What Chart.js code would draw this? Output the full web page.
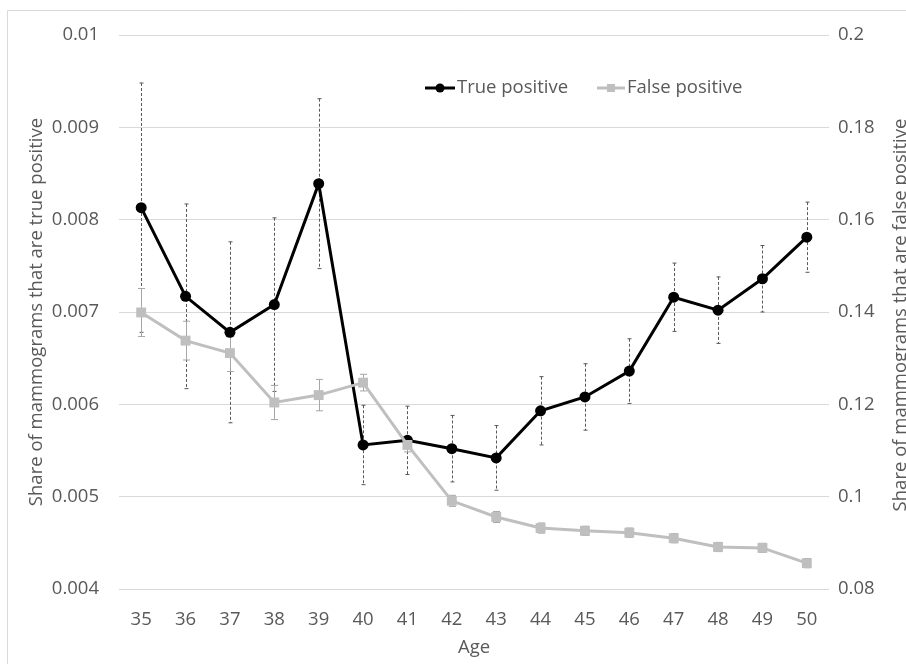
<!DOCTYPE html>
<html>
<head>
<meta charset="utf-8">
<script src="https://cdn.jsdelivr.net/npm/chart.js@4.4.1/dist/chart.umd.min.js"></script>
<style>
  body { margin: 0; background: #fff; }
  #wrap { width: 906px; height: 664px; }
</style>
</head>
<body>
<div id="wrap"><canvas id="c" width="906" height="664"></canvas></div>
<script>
// data
const ages = ['35','36','37','38','39','40','41','42','43','44','45','46','47','48','49','50'];
const truePos = [0.00813, 0.00717, 0.00678, 0.00708, 0.00839, 0.00556, 0.00561, 0.00552, 0.00542, 0.00593, 0.00608, 0.00636, 0.00716, 0.00702, 0.00736, 0.00781];
const truePosErr = [0.00135, 0.00100, 0.00098, 0.00094, 0.00092, 0.00043, 0.00037, 0.00036, 0.00035, 0.00037, 0.00036, 0.00035, 0.00037, 0.00036, 0.00036, 0.00038];
const falsePos = [0.1399, 0.1338, 0.1311, 0.1204, 0.1220, 0.1247, 0.1112, 0.0991, 0.0956, 0.0932, 0.0926, 0.0922, 0.0910, 0.0891, 0.0889, 0.0856];
const falsePosErr = [0.0052, 0.0042, 0.0040, 0.0037, 0.0034, 0.0018, 0.0015, 0.0012, 0.0012, 0.0011, 0.0010, 0.0010, 0.0010, 0.0010, 0.0010, 0.0010];
const leftTicks = [0.004, 0.005, 0.006, 0.007, 0.008, 0.009, 0.01];
const rightTicks = [0.08, 0.1, 0.12, 0.14, 0.16, 0.18, 0.2];

const FONT = "'Open Sans', sans-serif";
const FSIZE = 18.5;
const TXT = '#595959';
const GRID = '#d9d9d9';

Chart.defaults.font.family = FONT;
Chart.defaults.font.size = FSIZE;
Chart.defaults.color = TXT;

// vertical error bars, drawn under the lines
const errorBars = {
  id: 'errorBars',
  beforeDatasetsDraw(chart) {
    const ctx = chart.ctx;
    const x = chart.scales.x;
    const sets = [
      { vals: truePos, errs: truePosErr, scale: chart.scales.y, color: '#595959', dash: [3, 2], cap: 2 },
      { vals: falsePos, errs: falsePosErr, scale: chart.scales.y2, color: '#a6a6a6', dash: [], cap: 3.5 }
    ];
    ctx.save();
    ctx.lineWidth = 1;
    sets.forEach(s => {
      ctx.strokeStyle = s.color;
      s.vals.forEach((v, i) => {
        const px = Math.round(x.getPixelForValue(i)) + 0.5;
        const top = s.scale.getPixelForValue(v + s.errs[i]);
        const bot = s.scale.getPixelForValue(v - s.errs[i]);
        ctx.setLineDash(s.dash);
        ctx.beginPath();
        ctx.moveTo(px, top);
        ctx.lineTo(px, bot);
        ctx.stroke();
        ctx.setLineDash([]);
        ctx.beginPath();
        ctx.moveTo(px - s.cap, top); ctx.lineTo(px + s.cap, top);
        ctx.moveTo(px - s.cap, bot); ctx.lineTo(px + s.cap, bot);
        ctx.stroke();
      });
    });
    ctx.restore();
  }
};

// frame, legend with line+marker, and the right axis title (reads bottom to top, cut by the edge)
const extras = {
  id: 'extras',
  beforeDraw(chart) {
    const ctx = chart.ctx;
    ctx.save();
    ctx.strokeStyle = GRID;
    ctx.lineWidth = 1;
    ctx.beginPath();
    ctx.moveTo(7.5, 700); ctx.lineTo(7.5, 10.5); ctx.lineTo(1000, 10.5);
    ctx.stroke();
    ctx.restore();
  },
  afterDraw(chart) {
    const ctx = chart.ctx;
    ctx.save();
    ctx.font = FSIZE + 'px ' + FONT;
    ctx.fillStyle = TXT;
    ctx.textBaseline = 'middle';
    const ly = 88;
    // True positive
    ctx.strokeStyle = '#000'; ctx.lineWidth = 3;
    ctx.beginPath(); ctx.moveTo(425, ly); ctx.lineTo(455, ly); ctx.stroke();
    ctx.fillStyle = '#000';
    ctx.beginPath(); ctx.arc(440, ly, 4.5, 0, Math.PI * 2); ctx.fill();
    ctx.fillStyle = TXT;
    ctx.fillText('True positive', 457, ly);
    // False positive
    ctx.strokeStyle = '#bfbfbf';
    ctx.beginPath(); ctx.moveTo(597, ly); ctx.lineTo(625, ly); ctx.stroke();
    ctx.fillStyle = '#bfbfbf';
    ctx.fillRect(607, ly - 4, 8, 8);
    ctx.fillStyle = TXT;
    ctx.fillText('False positive', 627, ly);
    // right title
    ctx.translate(906, 315);
    ctx.rotate(-Math.PI / 2);
    ctx.textAlign = 'center';
    ctx.textBaseline = 'alphabetic';
    ctx.fillText('Share of mammograms that are false positive', 0, 0);
    ctx.restore();
  }
};

new Chart(document.getElementById('c'), {
  type: 'line',
  data: {
    labels: ages,
    datasets: [
      {
        label: 'True positive',
        data: truePos,
        yAxisID: 'y',
        borderColor: '#000',
        backgroundColor: '#000',
        borderWidth: 3,
        pointStyle: 'circle',
        pointRadius: 5.5,
        pointBorderWidth: 0,
        tension: 0,
        order: 2
      },
      {
        label: 'False positive',
        data: falsePos,
        yAxisID: 'y2',
        borderColor: '#bfbfbf',
        backgroundColor: '#bfbfbf',
        borderWidth: 3,
        pointStyle: 'rect',
        pointRadius: 7,
        pointBorderWidth: 0,
        tension: 0,
        order: 1
      }
    ]
  },
  options: {
    responsive: false,
    animation: false,
    layout: { padding: { top: 35, left: 0, right: 0, bottom: 0 } },
    plugins: { legend: { display: false }, tooltip: { enabled: false } },
    scales: {
      x: {
        offset: true,
        grid: { display: false },
        border: { display: false },
        ticks: { padding: 12, color: TXT },
        title: { display: true, text: 'Age', color: TXT, padding: { bottom: 5 } },
        afterFit(s) { s.height = 75; }
      },
      y: {
        position: 'left',
        min: 0.004, max: 0.01,
        afterBuildTicks(s) { s.ticks = leftTicks.map(v => ({ value: v })); },
        grid: { color: GRID, drawTicks: false },
        border: { display: false },
        ticks: { padding: 20, color: TXT, callback: v => String(+v.toFixed(4)) },
        title: { display: true, text: 'Share of mammograms that are true positive', color: TXT, padding: { top: 26 } },
        afterFit(s) { s.width = 119; }
      },
      y2: {
        position: 'right',
        min: 0.08, max: 0.2,
        afterBuildTicks(s) { s.ticks = rightTicks.map(v => ({ value: v })); },
        grid: { display: false, drawTicks: false },
        border: { display: false },
        ticks: { padding: 9, color: TXT, callback: v => String(+v.toFixed(3)) },
        afterFit(s) { s.width = 77; }
      }
    }
  },
  plugins: [errorBars, extras]
});
</script>
</body>
</html>
